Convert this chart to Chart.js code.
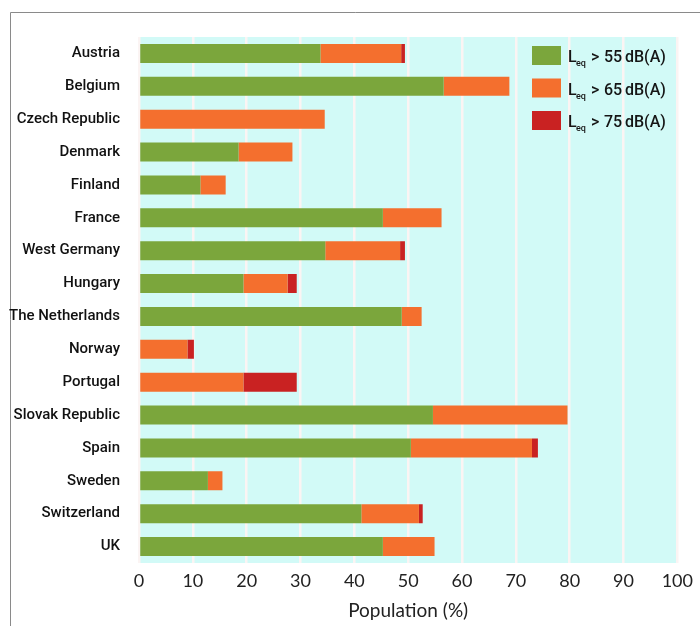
<!DOCTYPE html>
<html>
<head>
<meta charset="utf-8">
<script src="https://cdn.jsdelivr.net/npm/chart.js@4"></script>
<style>
  html, body { margin: 0; padding: 0; background: #fff; }
  #wrap { position: relative; width: 700px; height: 626px; }
</style>
</head>
<body>
<div id="wrap"><canvas id="chart1" width="700" height="626"></canvas></div>
<script>
// data (segment lengths, % of population)
var countries = ['Austria', 'Belgium', 'Czech Republic', 'Denmark', 'Finland', 'France',
  'West Germany', 'Hungary', 'The Netherlands', 'Norway', 'Portugal', 'Slovak Republic',
  'Spain', 'Sweden', 'Switzerland', 'UK'];
var over55 = [33.7, 56.6, 0, 18.5, 11.4, 45.3, 34.6, 19.4, 48.8, 0, 0, 54.6, 50.5, 12.8, 41.3, 45.3];
var over65 = [15.0, 12.2, 34.5, 10.0, 4.7, 10.9, 13.9, 8.2, 3.7, 9.0, 19.4, 25.0, 22.5, 2.7, 10.7, 9.6];
var over75 = [0.7, 0, 0, 0, 0, 0, 0.9, 1.7, 0, 1.2, 9.9, 0, 1.1, 0, 0.7, 0];
var levels = ['55', '65', '75'];
var colours = ['#7ba63c', '#f46f2e', '#c92222'];
var xTicks = [0, 10, 20, 30, 40, 50, 60, 70, 80, 90, 100];

var labelFont = '"Roboto", sans-serif';

var frame = {
  id: 'frame',
  beforeDraw: function (chart) {
    var c = chart.ctx, a = chart.chartArea;
    c.save();
    c.strokeStyle = '#8a8a8a';
    c.lineWidth = 1;
    c.beginPath();
    c.moveTo(10.5, 626);
    c.lineTo(10.5, 12.5);
    c.lineTo(700, 12.5);
    c.stroke();
    c.fillStyle = '#d2faf7';
    c.fillRect(a.left, a.top, a.right - a.left, a.bottom - a.top);
    c.restore();
  },
  afterDraw: function (chart) {
    var c = chart.ctx;
    c.save();
    c.textBaseline = 'alphabetic';
    for (var i = 0; i < levels.length; i++) {
      var y = 46 + i * 32.5, base = y + 16;
      c.fillStyle = colours[i];
      c.fillRect(532, y, 29, 19);
      c.fillStyle = '#151515';
      c.font = '500 16px ' + labelFont;
      c.fillText('L', 568, base);
      c.font = '500 9px ' + labelFont;
      c.fillText('eq', 576, base + 4);
      c.font = '500 16px ' + labelFont;
      c.fillText('>', 591, base);
      c.fillText(levels[i], 604, base);
      c.fillText('dB(A)', 625, base);
    }
    c.restore();
  }
};

var datasets = [over55, over65, over75].map(function (vals, i) {
  return {
    label: 'Leq > ' + levels[i] + ' dB(A)',
    data: vals,
    backgroundColor: colours[i],
    borderWidth: 0,
    barPercentage: 0.58,
    categoryPercentage: 1
  };
});

var graf = new Chart(document.getElementById('chart1'), {
  type: 'bar',
  data: { labels: countries, datasets: datasets },
  options: {
    indexAxis: 'y',
    responsive: false,
    animation: false,
    layout: { padding: { left: 0, right: 20, top: 37, bottom: 0 } },
    plugins: { legend: { display: false }, tooltip: { enabled: false } },
    scales: {
      x: {
        stacked: true,
        min: 0,
        max: 100,
        afterBuildTicks: function (s) { s.ticks = xTicks.map(function (v) { return { value: v }; }); },
        afterFit: function (s) { s.height = 63; },
        grid: { color: '#fbf4f3', lineWidth: 2.5, drawTicks: false },
        border: { display: false },
        ticks: { padding: 7, color: '#222', font: { family: 'Lato', size: 18 } },
        title: { display: true, text: 'Population (%)', color: '#222', padding: { top: 0 },
          font: { family: 'Lato', size: 19 } }
      },
      y: {
        stacked: true,
        afterFit: function (s) { s.width = 139; },
        grid: { display: false },
        border: { display: false },
        ticks: { padding: 11, color: '#111',
          font: { family: labelFont, size: 15, weight: '500' } }
      }
    }
  },
  plugins: [frame]
});
</script>
</body>
</html>
